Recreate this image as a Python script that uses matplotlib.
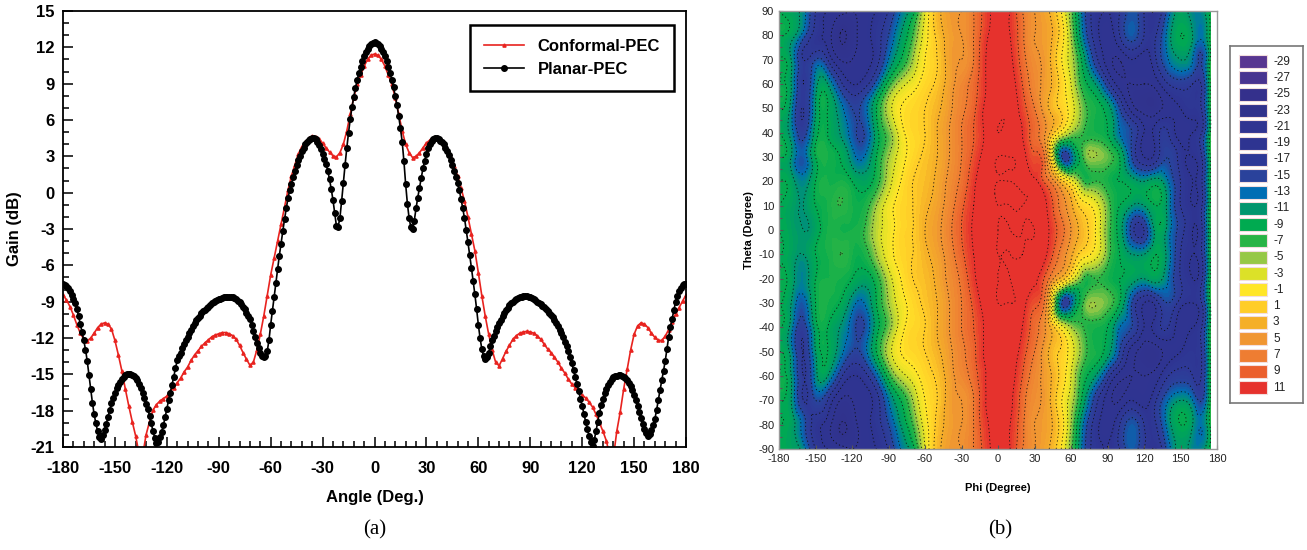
import matplotlib
matplotlib.use("Agg")
import matplotlib.pyplot as plt
import matplotlib.tri as mtri
import numpy as np
from matplotlib.colors import LinearSegmentedColormap, Normalize
from matplotlib.ticker import MultipleLocator

plt.rcParams["font.family"] = ["Liberation Sans", "DejaVu Sans"]
plt.rcParams["axes.unicode_minus"] = False

# (a) gain cut. Conformal read every 2 deg, planar every 1 deg (-180 .. 180)
angle_conf = np.arange(-180, 181, 2)
angle_plan = np.arange(-180, 181, 1)

conformal_pec = [
    -8.45, -8.85, -9.4, -10.1, -10.9, -11.6, -12.1, -12.25, -12.0, -11.6,
    -11.15, -10.85, -10.75, -10.85, -11.25, -12.2, -13.4, -14.7, -16.2, -17.6,
    -18.9, -20.1, -21.6, -21.7, -20.0, -18.9, -17.95, -17.5, -17.2, -17.0,
    -16.8, -16.4, -16.1, -15.7, -15.3, -14.8, -14.4, -13.85, -13.4, -13.05,
    -12.7, -12.4, -12.15, -11.9, -11.75, -11.65, -11.55, -11.55, -11.65, -11.8,
    -12.1, -12.6, -13.2, -13.75, -14.25, -14.0, -13.0, -11.7, -10.2, -8.5,
    -6.8, -5.4, -4.0, -2.6, -1.2, 0.2, 1.4, 2.3, 3.2, 3.8,
    4.2, 4.5, 4.65, 4.6, 4.4, 4.1, 3.7, 3.35, 3.05, 2.95,
    3.3, 4.0, 5.1, 6.5, 7.85, 8.95, 9.7, 10.45, 11.0, 11.35,
    11.45,
    11.35, 11.0, 10.45, 9.7, 8.95, 7.85, 6.5, 5.1, 4.0, 3.3,
    2.9, 3.0, 3.3, 3.7, 4.1, 4.35, 4.5, 4.5, 4.25, 3.9,
    3.4, 2.85, 2.2, 1.4, 0.4, -0.7, -2.0, -3.4, -4.8, -6.6,
    -8.5, -10.2, -11.7, -13.0, -14.0, -14.3, -13.7, -13.1, -12.6, -12.1,
    -11.8, -11.6, -11.5, -11.45, -11.5, -11.6, -11.8, -12.1, -12.5, -12.9,
    -13.2, -13.6, -14.0, -14.5, -14.9, -15.4, -15.8, -16.1, -16.4, -16.7,
    -16.95, -17.3, -17.7, -18.3, -19.0, -19.7, -20.5, -21.8, -21.9, -19.7,
    -18.1, -16.2, -14.6, -13.0, -11.7, -11.0, -10.75, -10.85, -11.15, -11.6,
    -11.95, -12.2, -12.2, -11.85, -11.3, -10.65, -10.0, -9.5, -8.95, -8.45,
]

planar_pec = [
    # -180 .. -91
    -7.55, -7.6, -7.7, -7.9, -8.15, -8.45, -8.75, -9.1, -9.6, -10.2,
    -10.85, -11.5, -12.2, -12.95, -13.9, -15.05, -16.2, -17.35, -18.3, -19.05,
    -19.7, -20.2, -20.3, -20.05, -19.6, -19.1, -18.5, -17.95, -17.4, -16.95,
    -16.5, -16.15, -15.85, -15.6, -15.35, -15.2, -15.05, -14.97, -14.95, -14.98,
    -15.05, -15.17, -15.3, -15.5, -15.8, -16.15, -16.5, -16.95, -17.45, -17.9,
    -18.4, -19.05, -19.7, -20.25, -20.7, -20.6, -20.2, -19.75, -19.2, -18.55,
    -17.85, -17.15, -16.5, -15.85, -15.2, -14.5, -13.85, -13.5, -13.2, -12.85,
    -12.5, -12.2, -11.9, -11.6, -11.3, -11.05, -10.8, -10.55, -10.35, -10.15,
    -9.95, -9.8, -9.65, -9.5, -9.4, -9.25, -9.15, -9.05, -8.95, -8.87,
    # -90 .. -1
    -8.8, -8.75, -8.7, -8.65, -8.6, -8.58, -8.6, -8.62, -8.65, -8.72,
    -8.8, -8.92, -9.05, -9.22, -9.4, -9.62, -9.9, -10.15, -10.45, -10.9,
    -11.4, -11.9, -12.4, -12.85, -13.25, -13.5, -13.6, -13.45, -13.1, -12.2,
    -10.9, -9.75, -8.6, -7.45, -6.3, -5.2, -4.2, -3.2, -2.2, -1.3,
    -0.45, 0.2, 0.75, 1.3, 1.75, 2.25, 2.7, 3.05, 3.4, 3.72,
    4.0, 4.2, 4.35, 4.45, 4.5, 4.5, 4.4, 4.22, 3.95, 3.6,
    3.2, 2.8, 2.35, 1.8, 1.1, 0.3, -0.6, -1.7, -2.75, -2.8,
    -2.1, -0.7, 0.8, 2.3, 3.7, 4.95, 6.1, 7.05, 7.9, 8.65,
    9.3, 9.9, 10.4, 10.9, 11.3, 11.65, 11.9, 12.1, 12.25, 12.35,
    # 0
    12.4,
    # 1 .. 90
    12.35, 12.25, 12.1, 11.9, 11.65, 11.3, 10.9, 10.4, 9.85, 9.3,
    8.7, 8.0, 7.2, 6.3, 5.3, 4.2, 2.6, 0.7, -0.9, -2.1,
    -2.85, -3.0, -2.3, -1.3, -0.4, 0.4, 1.25, 2.0, 2.65, 3.2,
    3.65, 4.0, 4.25, 4.4, 4.5, 4.5, 4.42, 4.3, 4.17, 4.0,
    3.72, 3.4, 3.07, 2.7, 2.27, 1.8, 1.32, 0.8, 0.18, -0.5,
    -1.28, -2.1, -3.08, -4.1, -5.13, -6.2, -7.3, -8.4, -9.6, -10.9,
    -12.0, -12.9, -13.5, -13.7, -13.55, -13.2, -12.7, -12.2, -11.8, -11.4,
    -11.1, -10.8, -10.5, -10.2, -9.95, -9.7, -9.5, -9.3, -9.15, -9.0,
    -8.9, -8.8, -8.72, -8.65, -8.6, -8.55, -8.54, -8.55, -8.6, -8.65,
    # 91 .. 180
    -8.72, -8.8, -8.9, -9.0, -9.1, -9.2, -9.32, -9.45, -9.6, -9.75,
    -9.92, -10.1, -10.3, -10.5, -10.75, -11.0, -11.3, -11.6, -11.95, -12.3,
    -12.7, -13.1, -13.6, -14.1, -14.65, -15.2, -15.8, -16.4, -17.0, -17.6,
    -18.25, -18.9, -19.5, -20.1, -20.6, -20.9, -20.4, -19.7, -18.9, -18.2,
    -17.55, -17.0, -16.55, -16.2, -15.9, -15.6, -15.42, -15.25, -15.15, -15.1,
    -15.06, -15.05, -15.1, -15.2, -15.33, -15.5, -15.72, -16.0, -16.33, -16.7,
    -17.13, -17.6, -18.1, -18.6, -19.07, -19.5, -19.85, -20.1, -19.95, -19.6,
    -19.2, -18.7, -17.95, -17.1, -16.3, -15.5, -14.7, -13.9, -12.9, -11.9,
    -11.1, -10.4, -9.7, -9.0, -8.5, -8.1, -7.85, -7.65, -7.57, -7.55,
]

# (b) gain map (dB), rows = theta (90 .. -90), columns = phi
phi_deg = [-180, -170, -160, -150, -140, -130, -120, -110, -100, -90,
           -80, -70, -60, -50, -40, -30, -20, -10, 0, 10,
           20, 30, 40, 50, 60, 70, 80, 90, 100, 110,
           120, 130, 140, 150, 160, 170, 175]
theta_deg = [90, 80, 70, 60, 50, 40, 30, 20, 10, 0,
             -10, -20, -30, -40, -50, -60, -70, -80, -90]
gain_map = [
    [-9, -10, -12, -17, -19, -20, -21, -20, -19, -17, -13, -10, -3, 2, 4.5, 5, 7, 10, 12, 11, 7, 5, 3.5, 0, -6, -14, -18, -19, -17, -14, -17, -19, -14, -10, -12, -11, -8],
    [-9, -10, -14, -18, -20, -23, -22, -20, -18, -15, -11, -7, -2, 1.5, 4, 5, 7, 10.5, 12, 11, 7.5, 5, 4, 1, -5, -13, -18, -20, -17, -14, -17, -17, -12, -9, -11, -12, -8],
    [-9, -11, -17, -15, -17, -21, -21, -20, -18, -13, -9, -5, -1, 1, 4, 5, 7, 11, 12, 11.5, 8, 5.5, 4, 0, -4, -10, -16, -20, -21, -19, -20, -17, -13, -11, -13, -14, -8],
    [-9, -11, -17, -12, -11, -16, -19, -18, -14, -8, -4, -2, 0, 1.5, 4, 6, 8, 11, 12.5, 12, 9, 6, 4, 1, -3, -8, -11, -16, -20, -21, -21, -20, -17, -16, -17, -15, -8],
    [-9, -12, -17, -11, -9, -12, -15, -14, -9, -4, -1, 0, 1, 2.5, 4.5, 6.5, 8.5, 11.5, 12.5, 12.5, 10, 7, 3.5, 1, -2, -6, -8, -10, -15, -20, -22, -22, -20, -19, -18, -15, -8],
    [-9, -12, -16, -10, -9, -11, -14, -15, -10, -6, -2, 0, 1, 3, 5, 7, 9, 11.5, 13, 12.5, 11, 8, 4.5, -1, -5, -7, -8, -9, -13, -15, -19, -18, -17, -20, -19, -15, -8],
    [-9, -11, -14, -9, -8, -9, -12, -13, -9, -5, -2, 0, 1.5, 3, 5, 7, 9.5, 12, 13, 13, 12, 9.5, 5, -12, -14, -7, -5, -6, -9, -15, -19, -18, -15, -18, -19, -15, -8],
    [-9, -10, -12, -9, -8, -8, -9, -10, -8, -4, -1, 1, 2, 3.5, 5.5, 7.5, 10.5, 12.5, 13, 13, 12.5, 11.5, 8, 3, -2, -7, -7, -8, -9, -10, -11, -10, -13, -17, -19, -15, -8],
    [-9, -10, -11, -9, -8, -7, -8, -8, -5, -2, 0, 1, 2.5, 4, 6, 8.5, 11, 12.5, 13, 13, 13, 12.5, 11, 7, 3.5, 0, -2, -6, -9, -11, -11, -9, -12, -17, -19, -15, -8],
    [-9, -10, -11, -10, -8, -8, -8, -7, -4, -2, 0, 1, 3, 4.5, 6.5, 9, 11.3, 12.5, 13, 13, 13, 13, 11.5, 8.5, 5, 2, -1, -6, -10, -16, -17, -10, -12, -16, -19, -15, -8],
    [-9, -10, -11, -9, -8, -7, -8, -8, -5, -2, 0, 1, 2.5, 4, 6, 8.5, 11, 12.5, 13, 13, 13, 12.5, 11, 7, 3.5, 0, -2, -6, -9, -11, -11, -9, -12, -17, -19, -15, -8],
    [-9, -10, -12, -9, -8, -8, -9, -10, -8, -4, -1, 1, 2, 3.5, 5.5, 7.5, 10.5, 12.5, 13, 13, 12.5, 11.5, 8, 3, -2, -7, -7, -8, -9, -10, -11, -10, -13, -17, -19, -15, -8],
    [-9, -11, -14, -9, -8, -9, -12, -13, -9, -5, -2, 0, 1.5, 3, 5, 7, 9.5, 12, 13, 13, 12, 9.5, 5, -12, -14, -7, -5, -6, -9, -15, -19, -18, -15, -18, -19, -15, -8],
    [-9, -12, -16, -10, -9, -11, -14, -15, -10, -6, -2, 0, 1, 3, 5, 7, 9, 11.5, 13, 12.5, 11, 8, 4.5, -1, -5, -7, -8, -9, -13, -15, -19, -18, -17, -20, -19, -15, -8],
    [-9, -12, -17, -11, -9, -12, -15, -14, -9, -4, -1, 0, 1, 2.5, 4.5, 6.5, 8.5, 11.5, 12.5, 12.5, 10, 7, 3.5, 1, -2, -6, -8, -10, -15, -20, -22, -22, -20, -19, -18, -15, -8],
    [-9, -11, -17, -12, -11, -16, -19, -18, -14, -8, -4, -2, 0, 1.5, 4, 6, 8, 11, 12.5, 12, 9, 6, 4, 1, -3, -8, -11, -16, -20, -21, -21, -20, -17, -16, -17, -15, -8],
    [-9, -11, -17, -15, -17, -21, -21, -20, -18, -13, -9, -5, -1, 1, 4, 5, 7, 11, 12, 11.5, 8, 5.5, 4, 0, -4, -10, -16, -20, -21, -19, -20, -17, -13, -11, -13, -14, -8],
    [-9, -10, -14, -18, -20, -23, -22, -20, -18, -15, -11, -7, -2, 1.5, 4, 5, 7, 10.5, 12, 11, 7.5, 5, 4, 1, -5, -13, -18, -20, -17, -14, -17, -17, -12, -9, -11, -12, -8],
    [-9, -10, -12, -17, -19, -20, -21, -20, -19, -17, -13, -10, -3, 2, 4.5, 5, 7, 10, 12, 11, 7, 5, 3.5, 0, -6, -14, -18, -19, -17, -14, -17, -19, -14, -10, -12, -11, -8],
]

key_levels = list(range(-29, 12, 2))
key_colors = ["#583691", "#483490", "#34308c", "#30328c", "#303491", "#2e3491",
              "#2e3896", "#2a429b", "#006eb4", "#00966e", "#00aa50", "#28b446",
              "#96c846", "#dce128", "#ffe628", "#ffcd28", "#f5af28", "#f09632",
              "#ee7d32", "#eb5f2d", "#e6322d"]

fig = plt.figure(figsize=(13.07, 5.5), dpi=100)

# ---------------- (a)
ax1 = fig.add_axes([63 / 1307, 1 - 447 / 550, 623 / 1307, 436 / 550])
ax1.plot(angle_conf, conformal_pec, color="#e8231f", lw=1.2, marker="^", ms=2.3,
         mec="#e8231f", label="Conformal-PEC")
ax1.plot(angle_plan, planar_pec, color="black", lw=1.2, marker="o", ms=4.0,
         label="Planar-PEC")
ax1.set_xlim(-180, 180)
ax1.set_ylim(-21, 15)
ax1.xaxis.set_major_locator(MultipleLocator(30))
ax1.xaxis.set_minor_locator(MultipleLocator(6))
ax1.yaxis.set_major_locator(MultipleLocator(3))
ax1.yaxis.set_minor_locator(MultipleLocator(1))
ax1.tick_params(which="both", direction="in", top=False, right=False,
                labelsize=12, width=1.1, pad=6)
ax1.tick_params(axis="x", which="both", pad=10)
ax1.tick_params(which="major", length=7)
ax1.tick_params(which="minor", length=4)
for lab in ax1.get_xticklabels() + ax1.get_yticklabels():
    lab.set_fontweight("bold")
ax1.set_xlabel("Angle (Deg.)", fontsize=12, fontweight="bold", labelpad=10)
ax1.set_ylabel("Gain (dB)", fontsize=12, fontweight="bold", labelpad=6)
for s in ax1.spines.values():
    s.set_linewidth(1.3)
leg = ax1.legend(loc="upper right", bbox_to_anchor=(674 / 1307, 1 - 25 / 550),
                 bbox_transform=fig.transFigure, borderaxespad=0, frameon=True,
                 fancybox=False, edgecolor="black", framealpha=1,
                 prop=dict(weight="bold", size=12), handlelength=2.4,
                 labelspacing=0.45, borderpad=0.85)
leg.get_frame().set_linewidth(1.8)

# ---------------- (b)
ax2 = fig.add_axes([779 / 1307, 1 - 449 / 550, 438 / 1307, 438 / 550])
cmap = LinearSegmentedColormap.from_list("gain", key_colors)
norm = Normalize(vmin=-29, vmax=11)
P, T = np.meshgrid(phi_deg, theta_deg)
tri = mtri.Triangulation(P.ravel(), T.ravel())
tri_fine, gain_fine = mtri.UniformTriRefiner(tri).refine_field(
    np.ravel(gain_map), subdiv=3)
ax2.tricontourf(tri_fine, gain_fine, levels=np.arange(-30, 14.5, 0.5),
                cmap=cmap, norm=norm, extend="both")
ax2.tricontour(tri_fine, gain_fine, levels=np.arange(-25, 14, 2),
               colors="#111111", linewidths=0.6, linestyles=[(0, (1.5, 3))])
ax2.set_xlim(-180, 180)
ax2.set_ylim(-90, 90)
ax2.set_xticks(np.arange(-180, 181, 30))
ax2.set_yticks(np.arange(-90, 91, 10))
ax2.yaxis.set_minor_locator(MultipleLocator(5))
ax2.tick_params(which="both", direction="in", labelsize=8, colors="#555555",
                labelcolor="#222222", length=3, width=0.8)
ax2.tick_params(which="minor", length=2)
ax2.set_xlabel("Phi (Degree)", fontsize=8, fontweight="bold", labelpad=14)
ax2.set_ylabel("Theta (Degree)", fontsize=8, fontweight="bold", labelpad=3)
for s in ax2.spines.values():
    s.set_color("#999999")
    s.set_linewidth(1.0)

# colour key
axk = fig.add_axes([1230 / 1307, 1 - 403 / 550, 73 / 1307, 357 / 550])
axk.set_xlim(0, 73)
axk.set_ylim(20.94, -0.96)
axk.barh(range(len(key_levels)), 27.7, left=9, height=0.8, color=key_colors,
         edgecolor="#f3dede", linewidth=0.8)
for i, lv in enumerate(key_levels):
    axk.text(43, i, str(lv), va="center", ha="left", fontsize=8.5, color="#222222")
axk.set_xticks([])
axk.set_yticks([])
for s in axk.spines.values():
    s.set_color("#777777")
    s.set_linewidth(1.2)

fig.text(375 / 1307, 1 - 530 / 550, "(a)", ha="center", va="center",
         family=["Liberation Serif", "DejaVu Serif"], fontsize=15)
fig.text(1000 / 1307, 1 - 530 / 550, "(b)", ha="center", va="center",
         family=["Liberation Serif", "DejaVu Serif"], fontsize=15)

fig.savefig("out.png", dpi=100)
plt.close(fig)
